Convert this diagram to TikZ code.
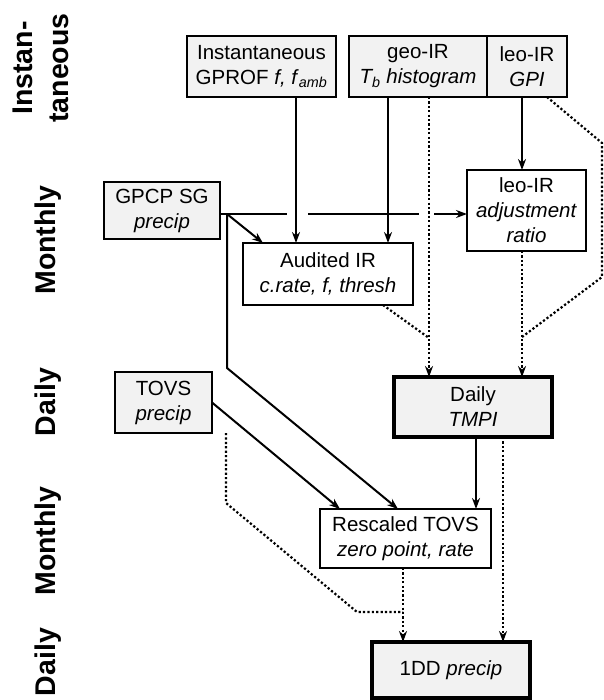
\documentclass[tikz,border=0pt]{standalone}
\usepackage{fontspec}
\setmainfont{Liberation Sans}
\usetikzlibrary{arrows.meta, positioning}

\begin{document}
\begin{tikzpicture}[
    x=1pt, y=-1pt,
    every node/.style={font=\fontsize{20.5}{25}\selectfont},
    box/.style={
        draw, rectangle, line width=1.8pt,
        inner sep=0pt, outer sep=0pt, align=center
    },
    input/.style={box, fill=black!5},
    result/.style={box, fill=black!5, line width=3.6pt},
    period/.style={
        rotate=90, align=center, inner sep=0pt,
        font=\fontsize{28.5}{36}\selectfont\bfseries
    },
    link/.style={line width=2pt},
    dotlink/.style={link, line width=2.2pt, dash pattern=on 2.2pt off 2.2pt},
    flow/.style={link, -{Stealth[length=11pt, width=8pt]}},
    dotflow/.style={dotlink, -{Stealth[length=11pt, width=8pt]}},
    gapflow/.style={flow, dash pattern=on 67pt off 21pt on 111pt off 15pt on 80pt},
]
\useasboundingbox (0,0) rectangle (603,700);

% ── time scales ──
\node[period] (lblinst) at (41,68) {Instan-\\taneous};
\node[period] (lblmon1) at (48,240) {Monthly};
\node[period] (lblday1) at (48,402) {Daily};
\node[period] (lblmon2) at (48,541) {Monthly};
\node[period] (lblday2) at (48,662) {Daily};

% ── inputs ──
\node[input, minimum width=149pt, minimum height=61pt] (inst) at (261.5,66.5)
    {Instantaneous\\GPROF \textit{f, f}\textsubscript{\itshape amb}};
\node[input, minimum width=138pt, minimum height=61pt] (geoir) at (418,66.5)
    {geo-IR\\\textit{T\textsubscript{b} histogram}};
\node[input, minimum width=80pt, minimum height=61pt, right=0pt of geoir] (gpi)
    {leo-IR\\\textit{GPI}};
\node[input, minimum width=116pt, minimum height=57pt] (gpcp) at (162,210.5)
    {GPCP SG\\\textit{precip}};
\node[input, minimum width=97pt, minimum height=61pt] (tovs) at (163.5,402.5)
    {TOVS\\\textit{precip}};

% ── derived ──
\node[box, minimum width=119pt, minimum height=81pt] (adj) at (526.5,210.5)
    {leo-IR\\\textit{adjustment}\\\textit{ratio}};
\node[box, minimum width=170pt, minimum height=62pt] (audit) at (328,274)
    {Audited IR\\\textit{c.rate, f, thresh}};
\node[box, minimum width=171pt, minimum height=59pt] (rescaled) at (405.5,538.5)
    {Rescaled TOVS\\\textit{zero point, rate}};

% ── products ──
\node[result, minimum width=158pt, minimum height=60pt] (tmpi) at (473,407)
    {Daily\\\textit{TMPI}};
\node[result, minimum width=158pt, minimum height=56pt] (dd) at (451,670)
    {1DD \textit{precip}};

% ── lanes and joins ──
\coordinate (xinst) at (296,0);
\coordinate (xgeo) at (388,0);
\coordinate (xgeodot) at (429,0);
\coordinate (xgpi) at (522,0);
\coordinate (xres) at (403,0);
\coordinate (xtmpi) at (476,0);
\coordinate (xtmpidot) at (503,0);
\coordinate (split) at (227,214);
\coordinate (joinA) at (429,338);
\coordinate (joinB) at (522,337);
\coordinate (joinC) at (403,612);

% ── Relationships ──
\draw[flow] (inst.south -| xinst) -- (audit.north -| xinst);
\draw[flow] (geoir.south -| xgeo) -- (audit.north -| xgeo);
\draw[flow] (gpi.south -| xgpi) -- (adj.north -| xgpi);
\draw[dotflow] (geoir.south -| xgeodot) -- (tmpi.north -| xgeodot);
\draw[dotflow] (adj.south -| xgpi) -- (tmpi.north -| xgpi);
\draw[dotlink] ([xshift=-30pt]audit.south east) -- (joinA);
\draw[dotlink] ([xshift=-20pt]gpi.south east) -- ++(55,46) -- ++(0,134) -- (joinB);

\draw[gapflow] (gpcp.east |- split) -- (adj.west |- split);
\draw[flow] (split) -- ([xshift=20pt]audit.north west);
\draw[flow] (split) -- ++(0,154) -- ([xshift=78pt]rescaled.north west);
\draw[flow] (tovs.east) -- ([xshift=20pt]rescaled.north west);
\draw[dotlink] ([xshift=14pt]tovs.south east) -- ++(0,70) -- ++(131,109) -- (joinC);

\draw[flow] (tmpi.south -| xtmpi) -- (rescaled.north -| xtmpi);
\draw[dotflow] (tmpi.south -| xtmpidot) -- (dd.north -| xtmpidot);
\draw[dotflow] (rescaled.south -| xres) -- (dd.north -| xres);

\end{tikzpicture}
\end{document}
